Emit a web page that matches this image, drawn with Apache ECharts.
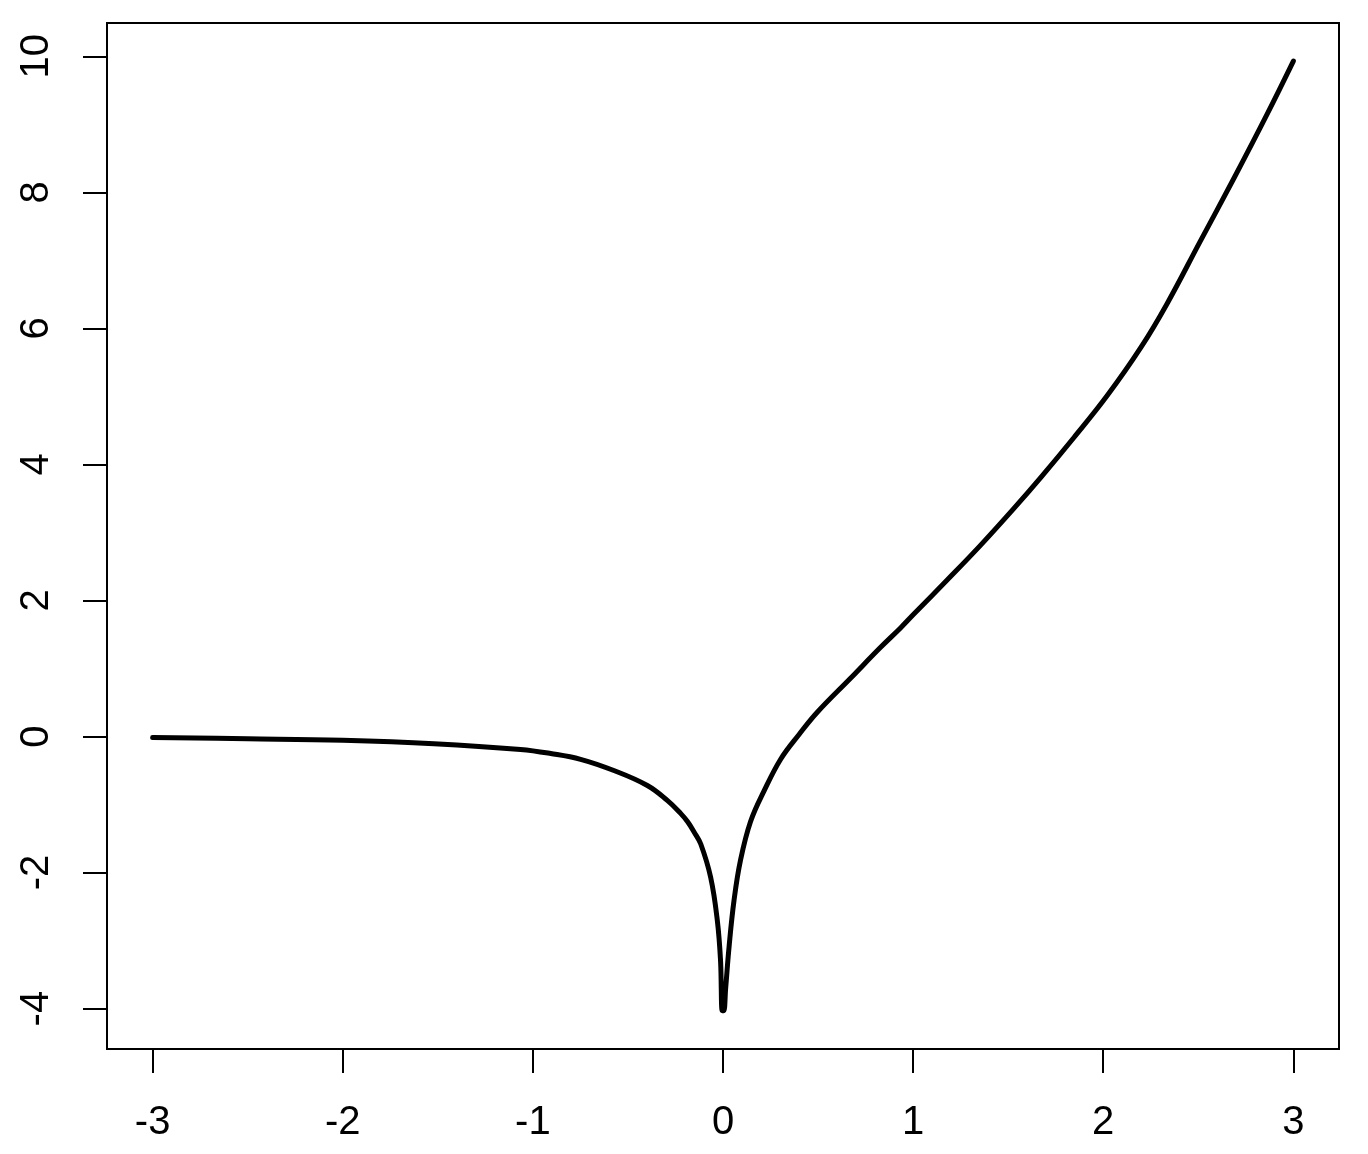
<!DOCTYPE html>
<html>
<head>
<meta charset="utf-8">
<script src="https://cdn.jsdelivr.net/npm/echarts@6/dist/echarts.min.js"></script>
<style>
  html, body { margin: 0; padding: 0; background: #fff; }
  #chart { width: 1368px; height: 1154px; }
</style>
</head>
<body>
<div id="chart"></div>
<script>
// Values
const xValues = [-3.0, -2.5, -2.0, -1.52, -1.065, -0.906, -0.749, -0.574, -0.398, -0.293, -0.223, -0.187, -0.153, -0.117, -0.065, -0.030, -0.013, -0.004,
                 0.004, 0.014, 0.032, 0.058, 0.092, 0.145, 0.216, 0.304, 0.40, 0.497, 0.672, 0.825, 0.935, 1.0, 1.179, 1.354, 1.529, 1.672, 1.847, 2.023, 2.198, 2.335, 2.51, 2.686, 2.862, 3.0];
const yValues = [-0.016, -0.033, -0.055, -0.105, -0.19, -0.25, -0.335, -0.50, -0.72, -0.94, -1.13, -1.25, -1.40, -1.58, -2.07, -2.70, -3.29, -4.03,
                 -4.03, -3.70, -3.09, -2.41, -1.82, -1.25, -0.80, -0.33, 0.03, 0.36, 0.86, 1.30, 1.60, 1.79, 2.30, 2.81, 3.35, 3.81, 4.40, 5.02, 5.72, 6.36, 7.28, 8.20, 9.15, 9.93];
const xTicks = [-3, -2, -1, 0, 1, 2, 3];
const yTicks = [-4, -2, 0, 2, 4, 6, 8, 10];

const seriesData = xValues.map((x, i) => [x, yValues[i]]);

const chart = echarts.init(document.getElementById('chart'), null, { renderer: 'canvas' });
const font = 'Liberation Sans, Arial, Helvetica, sans-serif';
chart.setOption({
  animation: false,
  backgroundColor: '#ffffff',
  grid: {
    show: true,
    left: 107, top: 23, right: 29, bottom: 105,
    borderColor: '#000', borderWidth: 2,
    backgroundColor: 'transparent'
  },
  xAxis: {
    type: 'value',
    min: -3.24, max: 3.24,
    splitLine: { show: false },
    axisLine: { show: false, onZero: false },
    axisTick: { show: true, customValues: xTicks, length: 24, lineStyle: { color: '#000', width: 2 } },
    axisLabel: { show: true, customValues: xTicks, fontSize: 40, color: '#000', fontFamily: font, margin: 54 }
  },
  yAxis: {
    type: 'value',
    min: -4.594, max: 10.49,
    splitLine: { show: false },
    axisLine: { show: false, onZero: false },
    axisTick: { show: true, customValues: yTicks, length: 24, lineStyle: { color: '#000', width: 2 } },
    axisLabel: { show: true, customValues: yTicks, fontSize: 40, color: '#000', fontFamily: font, margin: 50, rotate: 90 }
  },
  series: [{
    type: 'line',
    data: seriesData,
    showSymbol: false,
    smooth: 0.4,
    lineStyle: { color: '#000', width: 5, cap: 'round', join: 'round' },
    clip: true
  }]
});
</script>
</body>
</html>
